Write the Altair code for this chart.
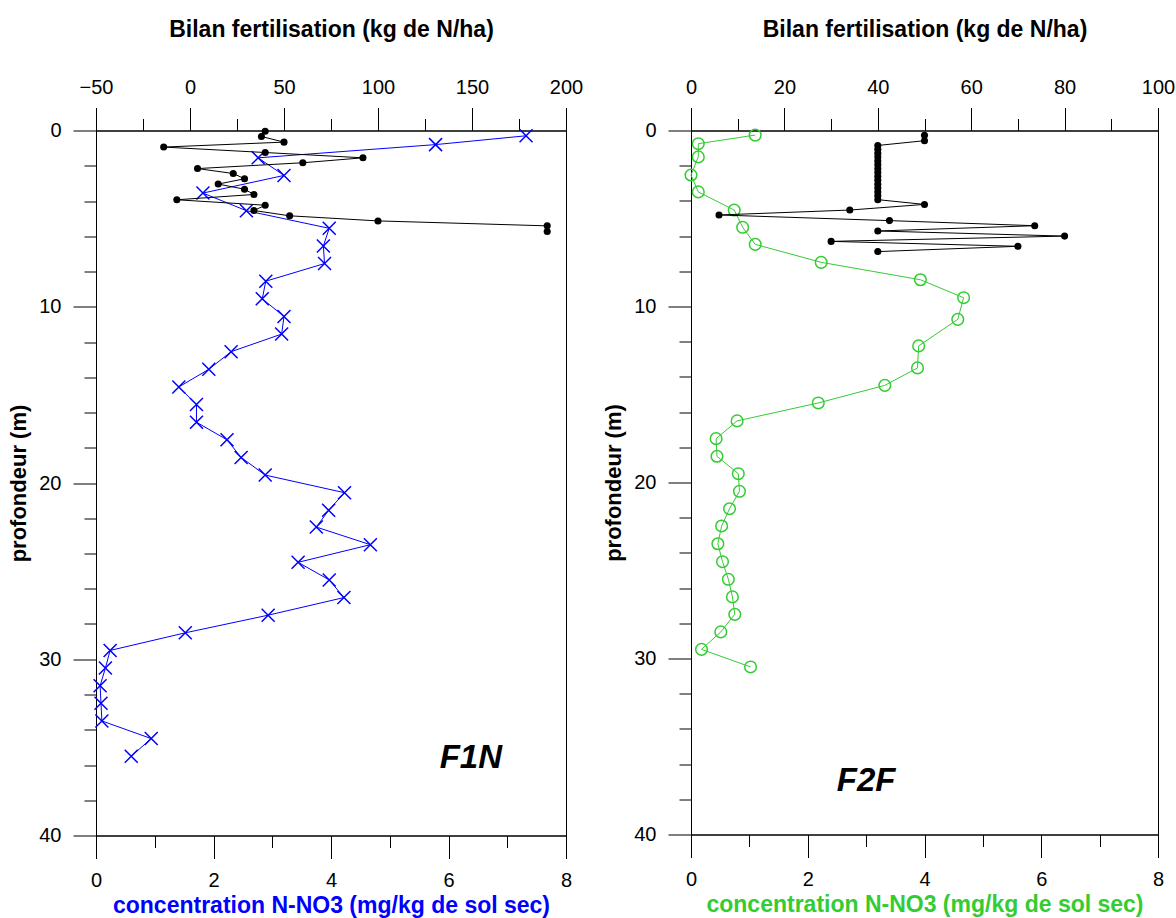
import altair as alt
import pandas as pd

# ---------------- data ----------------
# F1N : bilan fertilisation (kg N/ha) vs depth
f1n_bilan_depth = [0.04, 0.34, 0.66, 0.94, 1.25, 1.55, 1.83, 2.16, 2.44, 2.74, 3.04, 3.33,
                   3.63, 3.93, 4.24, 4.54, 4.84, 5.13, 5.41, 5.73]
f1n_bilan = [40, 38, 50, -14, 40, 92, 60, 4, 23, 29, 15, 29, 34, -7, 40, 34, 53, 100, 190, 190]

# F1N : concentration N-NO3 (mg/kg) vs depth
f1n_depth = [0.3, 0.8, 1.55, 2.55, 3.55, 4.55, 5.55, 6.55, 7.55, 8.55, 9.55, 10.55, 11.55,
             12.55, 13.55, 14.55, 15.55, 16.55, 17.55, 18.55, 19.55, 20.55, 21.55, 22.5,
             23.5, 24.5, 25.5, 26.5, 27.5, 28.5, 29.5, 30.5, 31.5, 32.5, 33.5, 34.5, 35.5]
f1n_conc = [7.32, 5.78, 2.76, 3.20, 1.82, 2.56, 3.97, 3.87, 3.89, 2.89, 2.83, 3.20, 3.16,
            2.30, 1.92, 1.41, 1.71, 1.71, 2.23, 2.47, 2.88, 4.23, 3.96, 3.75, 4.67, 3.44,
            3.97, 4.22, 2.93, 1.52, 0.24, 0.16, 0.07, 0.085, 0.10, 0.94, 0.60]

# F2F : bilan fertilisation
f2f_bilan_depth = [0.27, 0.58, 0.85, 1.07, 1.29, 1.51, 1.73, 1.95, 2.17, 2.39, 2.61, 2.83,
                   3.05, 3.27, 3.49, 3.71, 3.93, 4.2, 4.52, 4.8, 5.12, 5.41, 5.71, 6.0,
                   6.3, 6.58, 6.88]
f2f_bilan = [50, 50, 40, 40, 40, 40, 40, 40, 40, 40, 40, 40, 40, 40, 40, 40, 40,
             50, 34, 6, 42.5, 73.6, 40, 80, 30, 70, 40]

# F2F : concentration
f2f_depth = [0.26, 0.75, 1.5, 2.53, 3.49, 4.52, 5.5, 6.47, 7.49, 8.48, 9.5, 10.73, 12.24,
             13.49, 14.48, 15.48, 16.5, 17.51, 18.51, 19.5, 20.5, 21.49, 22.47, 23.48,
             24.5, 25.5, 26.5, 27.49, 28.49, 29.48, 30.48]
f2f_conc = [1.10, 0.125, 0.125, 0.0, 0.125, 0.74, 0.885, 1.10, 2.23, 3.93, 4.67, 4.57,
            3.90, 3.88, 3.32, 2.18, 0.79, 0.43, 0.445, 0.81, 0.83, 0.66, 0.525, 0.46,
            0.54, 0.64, 0.71, 0.75, 0.51, 0.18, 1.02]

panel_labels = ["F1N", "F2F"]
label_pos_conc = [6.38, 3.0]
label_pos_depth = [35.6, 36.95]

conc_ticks = list(range(0, 9))
depth_ticks = list(range(0, 41, 2))
f1n_top_ticks = list(range(-50, 201, 25))
f2f_top_ticks = list(range(0, 101, 10))

FONT = "Liberation Sans"
BLUE = "#0000FF"
GREEN = "#33CC33"
X_PATH = "M-1,-1L1,1M-1,1L1,-1"


def tick_axis(orient, values, major_mod, title, title_color="black", title_pad=4,
              label_pad=4, title_size=23):
    return alt.Axis(
        orient=orient,
        values=values,
        title=title,
        titleColor=title_color,
        titleFont=FONT,
        titleFontSize=title_size,
        titleFontWeight="bold",
        titlePadding=title_pad,
        labelFont=FONT,
        labelFontSize=20,
        labelColor="black",
        labelPadding=label_pad,
        labelOverlap=False,
        labelFlush=False,
        labelExpr=f"datum.value % {major_mod} === 0 ? datum.label : ''",
        tickSize={"condition": {"test": f"datum.value % {major_mod} === 0", "value": 23},
                  "value": 12},
        tickColor="black",
        tickWidth=1,
        domainColor="black",
        domainWidth=1,
        grid=False,
    )


def panel(depth, conc, bdepth, bil, top_ticks, top_mod, top_domain, color, conc_title_color,
          label, lx, ly, width, height, is_x, spacer):
    yscale = alt.Scale(domain=[0, 40], reverse=True, nice=False, zero=False)
    yaxis = tick_axis("left", depth_ticks, 10, "profondeur (m)", title_pad=8, label_pad=12,
                      title_size=22)
    xscale = alt.Scale(domain=[0, 8], nice=False, zero=False)
    xaxis = tick_axis("bottom", conc_ticks, 2,
                      "concentration N-NO3 (mg/kg de sol sec)",
                      title_color=conc_title_color, title_pad=4, label_pad=12)
    tscale = alt.Scale(domain=top_domain, nice=False, zero=False)
    taxis = tick_axis("top", top_ticks, top_mod, "Bilan fertilisation (kg de N/ha)",
                      title_pad=36, label_pad=10)

    cdf = pd.DataFrame({"c": conc, "d": depth})
    bdf = pd.DataFrame({"b": bil, "d": bdepth})
    ldf = pd.DataFrame({"t": [label], "c": [lx], "d": [ly]})

    cbase = alt.Chart(cdf).encode(
        x=alt.X("c:Q", scale=xscale, axis=xaxis),
        y=alt.Y("d:Q", scale=yscale, axis=yaxis),
        order=alt.Order("d:Q"),
    )
    cline = cbase.mark_line(color=color, strokeWidth=1, clip=False)
    if is_x:
        cpts = cbase.mark_point(shape=X_PATH, size=169, filled=False, color=color,
                                strokeWidth=1.5, opacity=1, clip=False)
    else:
        cpts = cbase.mark_point(shape="circle", size=135, filled=False, color=color,
                                strokeWidth=1.5, opacity=1, clip=False)
    txt = alt.Chart(ldf).mark_text(font=FONT, fontSize=33, fontWeight="bold",
                                   fontStyle="italic", color="black").encode(
        x=alt.X("c:Q", scale=xscale, axis=xaxis),
        y=alt.Y("d:Q", scale=yscale, axis=yaxis),
        text="t:N",
    )
    clayers = [cline, cpts, txt]
    if spacer:
        # invisible (white) spacer above the title: pushes this panel a little lower
        sp = alt.Chart(ldf).mark_rule(color="white", strokeWidth=1, clip=False).encode(
            x=alt.value(0), y=alt.value(-131), y2=alt.value(-130))
        clayers.append(sp)

    bbase = alt.Chart(bdf).encode(
        x=alt.X("b:Q", scale=tscale, axis=taxis),
        y=alt.Y("d:Q", scale=yscale, axis=yaxis),
        order=alt.Order("d:Q"),
    )
    bline = bbase.mark_line(color="black", strokeWidth=1, clip=False)
    bpts = bbase.mark_circle(size=50, color="black", opacity=1, clip=False)

    return alt.layer(
        alt.layer(*clayers),
        alt.layer(bline, bpts),
    ).resolve_scale(x="independent").properties(width=width, height=height)


left = panel(f1n_depth, f1n_conc, f1n_bilan_depth, f1n_bilan, f1n_top_ticks, 50,
             [-50, 200], BLUE, BLUE, panel_labels[0], label_pos_conc[0], label_pos_depth[0],
             470, 705, True, True)
right = panel(f2f_depth, f2f_conc, f2f_bilan_depth, f2f_bilan, f2f_top_ticks, 20,
              [0, 100], GREEN, GREEN, panel_labels[1], label_pos_conc[1], label_pos_depth[1],
              467, 704, False, False)

chart = alt.hconcat(alt.vconcat(left), alt.vconcat(right), spacing=18).properties(
    padding={"left": 7, "top": -1.5, "right": 0, "bottom": 0},
    background="white",
).configure_view(stroke="black", strokeWidth=1)

chart.save("out.html", embed_options={"renderer": "svg", "actions": False})
